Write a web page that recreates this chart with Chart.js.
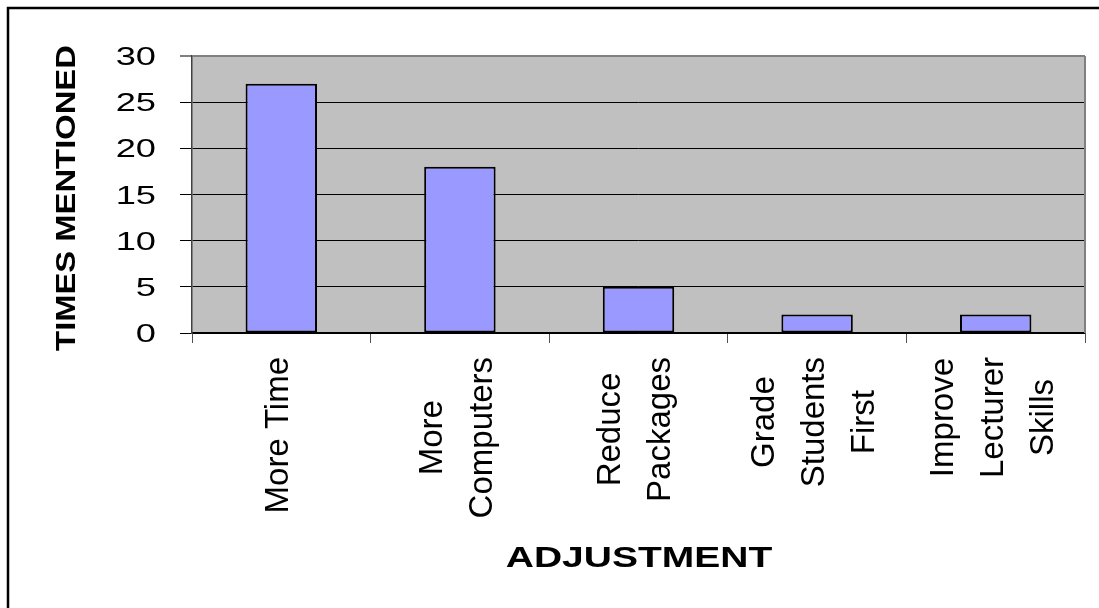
<!DOCTYPE html>
<html>
<head>
<meta charset="utf-8">
<script src="https://cdn.jsdelivr.net/npm/chart.js@4/dist/chart.umd.min.js"></script>
<style>
html,body{margin:0;padding:0;background:#fff;overflow:hidden;}
canvas{display:block;}
</style>
</head>
<body>
<canvas id="c" width="1099" height="608"></canvas>
<script>
const categories = [
  ["More Time"],
  ["More", "Computers"],
  ["Reduce", "Packages"],
  ["Grade", "Students", "First"],
  ["Improve", "Lecturer", "Skills"]
];
const timesMentioned = [27, 18, 5, 2, 2];
const yTickValues = [0, 5, 10, 15, 20, 25, 30];
const yTickLabels = ["0", "5", "10", "15", "20", "25", "30"];
const yTitle = "TIMES MENTIONED";
const xTitle = "ADJUSTMENT";

const FONT = '"Liberation Sans", Arial, sans-serif';

const decor = {
  id: 'decor',
  beforeDraw(chart) {
    const {ctx, chartArea: a} = chart;
    ctx.save();
    ctx.fillStyle = '#fff';
    ctx.fillRect(0, 0, chart.width, chart.height);
    ctx.fillStyle = '#c0c0c0';
    ctx.fillRect(a.left, a.top, a.right - a.left, a.bottom - a.top);
    ctx.restore();
  },
  afterDraw(chart) {
    const {ctx, chartArea: a} = chart;
    const xs = chart.scales.x, ys = chart.scales.y;
    ctx.save();
    // plot area right border
    ctx.strokeStyle = '#808080';
    ctx.lineWidth = 2;
    ctx.beginPath();
    ctx.moveTo(a.right, a.top);
    ctx.lineTo(a.right, a.bottom);
    ctx.stroke();
    // outer frame
    ctx.strokeStyle = '#000';
    ctx.lineWidth = 2.5;
    ctx.strokeRect(8, 8, 1300, 900);

    ctx.fillStyle = '#000';
    // y tick labels (horizontally stretched)
    ctx.font = '25px ' + FONT;
    ctx.textAlign = 'right';
    ctx.textBaseline = 'alphabetic';
    yTickValues.forEach((v, i) => {
      const y = ys.getPixelForValue(v);
      ctx.save();
      ctx.translate(156, y + 9);
      ctx.scale(1.45, 1);
      ctx.fillText(yTickLabels[i], 0, 0);
      ctx.restore();
    });

    // x category labels, rotated, lines centred within a top-aligned block
    const F = 33;
    ctx.font = F + 'px ' + FONT;
    ctx.textAlign = 'center';
    const top = 357;
    categories.forEach((lines, i) => {
      const cx = xs.getPixelForTick(i) - 5;
      const L = Math.max(...lines.map(s => ctx.measureText(s).width));
      const n = lines.length;
      lines.forEach((s, j) => {
        const x = cx + (j - (n - 1) / 2) * 50;
        ctx.save();
        ctx.translate(x, top + L / 2);
        ctx.rotate(-Math.PI / 2);
        ctx.fillText(s, 0, 0.358 * F);
        ctx.restore();
      });
    });

    // axis titles
    ctx.font = 'bold 28px ' + FONT;
    ctx.save();
    ctx.translate(65, 198);
    ctx.rotate(-Math.PI / 2);
    ctx.scale(1.17, 1);
    ctx.fillText(yTitle, 0, 10);
    ctx.restore();

    ctx.font = 'bold 30px ' + FONT;
    ctx.save();
    ctx.translate(639, 567);
    ctx.scale(1.3, 1);
    ctx.fillText(xTitle, 0, 0);
    ctx.restore();
    ctx.restore();
  }
};

new Chart(document.getElementById('c'), {
  type: 'bar',
  data: {
    labels: categories,
    datasets: [{
      data: timesMentioned,
      backgroundColor: '#9999ff',
      borderColor: '#000',
      borderWidth: 2,
      borderSkipped: false,
      barPercentage: 0.4,
      categoryPercentage: 1
    }]
  },
  options: {
    responsive: false,
    animation: false,
    devicePixelRatio: 1,
    layout: { padding: { top: 56, right: 14, left: 0, bottom: 0 } },
    plugins: { legend: { display: false }, tooltip: { enabled: false }, title: { display: false } },
    scales: {
      x: {
        offset: true,
        grid: { offset: true, drawOnChartArea: false, drawTicks: true, tickLength: 10, color: '#505050', lineWidth: 1 },
        border: { display: true, color: '#000', width: 1.5 },
        ticks: { color: 'transparent', autoSkip: false, maxRotation: 0, minRotation: 0, font: { size: 8 } },
        afterFit(s) { s.height = 275; }
      },
      y: {
        min: 0, max: 30,
        ticks: { stepSize: 5, color: 'transparent', font: { size: 8 } },
        grid: {
          color: ctx => (ctx.tick && ctx.tick.value === 30) ? '#808080' : '#000',
          lineWidth: ctx => (ctx.tick && ctx.tick.value === 30) ? 2 : 1,
          tickLength: 12, drawTicks: true
        },
        border: { display: true, color: '#404040', width: 1.5 },
        afterFit(s) { s.width = 192; }
      }
    }
  },
  plugins: [decor]
});
</script>
</body>
</html>
